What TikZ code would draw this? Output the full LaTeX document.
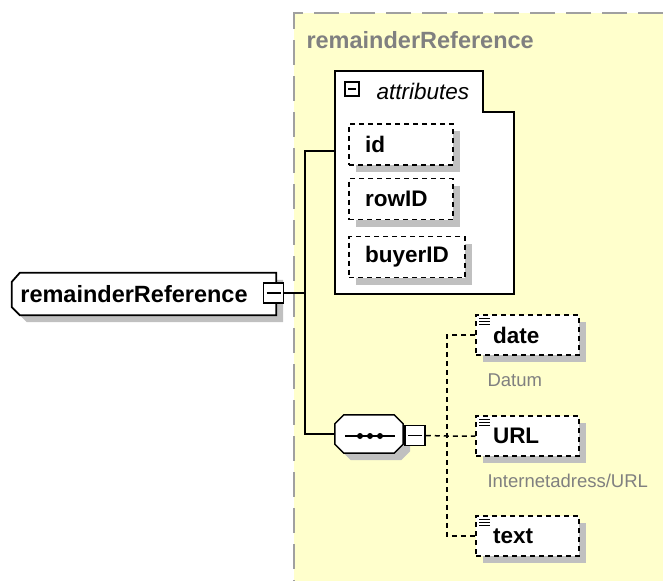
\documentclass[tikz,border=0pt]{standalone}
\usepackage{fontspec}
\setsansfont{Liberation Sans}
\usetikzlibrary{shadows,backgrounds}

\definecolor{schemabg}{RGB}{255,255,204}
\definecolor{shadowgray}{RGB}{192,192,192}
\definecolor{notegray}{RGB}{128,128,128}
\definecolor{framegray}{RGB}{160,160,160}

\tikzset{
  xsdfont/.style={font=\sffamily\bfseries\fontsize{22.5}{27}\selectfont},
  namefont/.style={font=\sffamily\bfseries\fontsize{23.5}{28}\selectfont},
  notefont/.style={font=\sffamily\fontsize{18.5}{22}\selectfont, text=notegray},
  boxshadow/.style={drop shadow={shadow xshift=7pt, shadow yshift=-7pt, fill=shadowgray, opacity=1}},
  xsdline/.style={line width=1.5pt},
  xsddash/.style={line width=1.5pt, dash pattern=on 5pt off 4pt},
  minusbox/.style={draw, xsdline, fill=white, minimum size=#1, inner sep=0pt,
    path picture={\draw[line width=1.3pt] ([xshift=3pt]path picture bounding box.west) -- ([xshift=-3pt]path picture bounding box.east);}},
  minusbox/.default=20pt,
  outline/.style={draw, fill=white, boxshadow, line join=miter},
  attbox/.style={draw, xsddash, fill=white, boxshadow, xsdfont, minimum height=41pt,
    text width=#1, inner xsep=16pt, align=left},
  elembox/.style={draw, xsddash, fill=white, boxshadow, xsdfont, minimum height=40pt,
    text width=69pt, inner xsep=17pt, align=left,
    path picture={\foreach \k in {0,1,2}
      \draw[solid, line width=1pt] ([xshift=3pt, yshift={-3pt-3.3pt*\k}]path picture bounding box.north west) -- ++(11pt,0);}}
}

\begin{document}
\begin{tikzpicture}[x=1pt, y=-1pt]
  \useasboundingbox (0,0) rectangle (663,581);
  % schema area
  \begin{scope}[on background layer]
    \fill[schemabg] (294,13) rectangle (663,581);
  \end{scope}
  \draw[framegray, line width=2pt, dash pattern=on 25pt off 11pt] (663,13) -- (294,13) -- (294,581);
  \node[namefont, text=notegray, anchor=west] (schematitle) at (303,40) {remainderReference};

  % root element
  \node[namefont, minimum width=264pt, minimum height=42pt, inner sep=0pt] (root) at (144,294) {remainderReference\hspace*{20pt}};
  \begin{scope}[on background layer]
    \path[outline, line width=1.8pt] ([xshift=8pt]root.north west) -- (root.north east) -- (root.south east)
      -- ([xshift=8pt]root.south west) -- ([yshift=8pt]root.south west) -- ([yshift=-9pt]root.north west) -- cycle;
  \end{scope}
  \node[minusbox] (rootexp) at (273.5,293) {};

  % attributes group
  \draw[xsdline, fill=white] (335,71) -- (483,71) -- (483,112) -- (514,112) -- (514,294) -- (335,294) -- cycle;
  \node[minusbox=14pt] (attexp) at (352,89) {};
  \node[font=\sffamily\itshape\fontsize{22.5}{27}\selectfont, anchor=west] (attlabel) at (373,91) {attributes};
  \node[attbox=72pt] (id) at (401,144.5) {id};
  \node[attbox=72pt] (rowid) at (401,199) {rowID};
  \node[attbox=84pt] (buyerid) at (407,257) {buyerID};
  \coordinate (attin) at (335,151);

  % sequence compositor
  \node[minimum width=68pt, minimum height=38pt, inner sep=0pt] (seq) at (369,434) {};
  \begin{scope}[on background layer]
    \path[outline, xsdline] ([xshift=9pt]seq.north west) -- ([xshift=-9pt]seq.north east) -- ([yshift=-9pt]seq.north east)
      -- ([yshift=9pt]seq.south east) -- ([xshift=-9pt]seq.south east) -- ([xshift=9pt]seq.south west)
      -- ([yshift=9pt]seq.south west) -- ([yshift=-9pt]seq.north west) -- cycle;
  \end{scope}
  \draw[line width=1.3pt] ([xshift=-24pt, yshift=-2pt]seq.center) -- ([xshift=26pt, yshift=-2pt]seq.center);
  \foreach \dx in {-9,1,11}
    \fill ([xshift=\dx pt, yshift=-2pt]seq.center) circle (3pt);
  \node[minusbox] (seqexp) at (415,435.5) {};

  % child elements
  \node[elembox] (date) at (527.5,335) {date};
  \node[elembox] (url) at (527.5,436) {URL};
  \node[elembox] (text) at (527.5,536) {text};
  \node[notefont, anchor=west] (datenote) at (484,380) {Datum};
  \node[notefont, anchor=west] (urlnote) at (484,481) {Internetadress/URL};

  % connectors
  \coordinate (trunk) at (305,293);
  \coordinate (fork) at (447,436);
  \draw[xsdline] (rootexp.east) -- (trunk);
  \draw[xsdline] (attin) -| (trunk) |- (seq.west);
  \draw[xsddash] (seqexp.east) -- (fork) -- (url.west);
  \draw[xsddash] (date.west) -| (fork) |- (text.west);
\end{tikzpicture}
\end{document}
